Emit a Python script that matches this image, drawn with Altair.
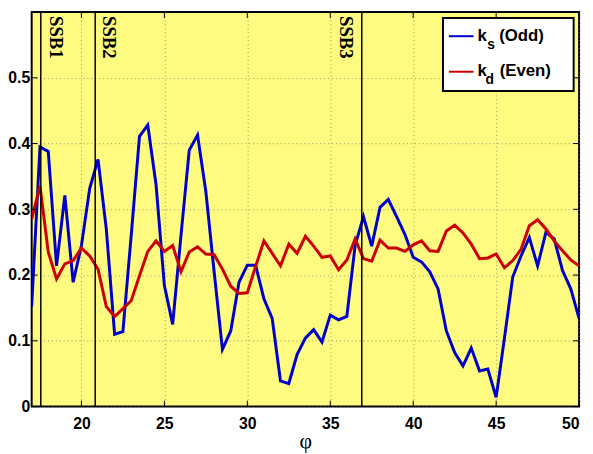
import altair as alt
import pandas as pd

# ---- data ----
phi = [17.0 + 0.5 * i for i in range(67)]

ks_odd = [0.152, 0.395, 0.388, 0.214, 0.321, 0.189, 0.245, 0.332, 0.376, 0.270,
          0.110, 0.114, 0.260, 0.411, 0.428, 0.337, 0.184, 0.125, 0.260, 0.390,
          0.413, 0.327, 0.205, 0.087, 0.115, 0.189, 0.215, 0.215, 0.164, 0.134,
          0.039, 0.035, 0.079, 0.104, 0.117, 0.098, 0.139, 0.132, 0.137, 0.245,
          0.289, 0.244, 0.303, 0.315, 0.289, 0.262, 0.227, 0.220, 0.205, 0.179,
          0.115, 0.082, 0.062, 0.089, 0.054, 0.057, 0.014, 0.104, 0.197, 0.229,
          0.257, 0.214, 0.265, 0.255, 0.207, 0.179, 0.134]

kd_even = [0.285, 0.336, 0.235, 0.194, 0.217, 0.222, 0.241, 0.229, 0.209, 0.152,
           0.137, 0.149, 0.161, 0.199, 0.236, 0.252, 0.236, 0.245, 0.205, 0.235,
           0.243, 0.232, 0.231, 0.209, 0.183, 0.172, 0.173, 0.213, 0.252, 0.233,
           0.214, 0.247, 0.233, 0.259, 0.244, 0.227, 0.229, 0.208, 0.223, 0.255,
           0.225, 0.221, 0.253, 0.241, 0.241, 0.236, 0.246, 0.252, 0.237, 0.236,
           0.267, 0.276, 0.264, 0.247, 0.225, 0.226, 0.232, 0.211, 0.222, 0.239,
           0.275, 0.284, 0.270, 0.252, 0.237, 0.223, 0.214]

ssb_names = ["SSB1", "SSB2", "SSB3"]
ssb_phi = [17.55, 20.83, 36.9]
ssb_label_phi = [18.1, 21.27, 35.6]

x_ticks = [20, 25, 30, 35, 40, 45, 50]
y_ticks = [0, 0.1, 0.2, 0.3, 0.4, 0.5]

W, H = 555, 400
BG = "#FFFA80"
BLUE = "#0000CC"
RED = "#CC0000"

df = pd.DataFrame({
    "phi": phi * 2,
    "k": ks_odd + kd_even,
    "series": ["ks"] * len(phi) + ["kd"] * len(phi),
})
ssb_df = pd.DataFrame({"name": ssb_names, "phi": ssb_phi, "lphi": ssb_label_phi})
xt_df = pd.DataFrame({"phi": x_ticks})
yt_df = pd.DataFrame({"k": y_ticks})
one = pd.DataFrame({"a": [0]})

xscale = alt.Scale(domain=[17, 50], nice=False, zero=False)
yscale = alt.Scale(domain=[0, 0.6], nice=False)

xaxis = alt.Axis(values=x_ticks, title="\u03c6", grid=True, ticks=False, domain=False,
                 labelFont="Liberation Sans", labelFontWeight="bold", labelFontSize=16,
                 labelColor="black", labelPadding=9,
                 titleFont="Liberation Serif", titleFontWeight="normal", titleFontSize=22,
                 titleColor="black", titlePadding=0)
yaxis = alt.Axis(values=y_ticks, title=None, grid=True, ticks=False, domain=False,
                 format="~g",
                 labelFont="Liberation Sans", labelFontWeight="bold", labelFontSize=16,
                 labelColor="black", labelPadding=2)

lines = alt.Chart(df).mark_line(strokeWidth=3, clip=True).encode(
    x=alt.X("phi:Q", scale=xscale, axis=xaxis),
    y=alt.Y("k:Q", scale=yscale, axis=yaxis),
    color=alt.Color("series:N", scale=alt.Scale(domain=["ks", "kd"], range=[BLUE, RED]),
                    legend=None),
    order=alt.Order("phi:Q"),
)

ssb_rules = alt.Chart(ssb_df).mark_rule(color="black", strokeWidth=1.5).encode(
    x=alt.X("phi:Q", scale=xscale), y=alt.value(0), y2=alt.value(H)
)
ssb_text = alt.Chart(ssb_df).mark_text(
    angle=90, align="left", baseline="alphabetic", font="Liberation Serif",
    fontWeight="bold", fontSize=19, color="black"
).encode(x=alt.X("lphi:Q", scale=xscale), y=alt.value(4), text="name:N")

tick_b = alt.Chart(xt_df).mark_rule(color="black", strokeWidth=1).encode(
    x=alt.X("phi:Q", scale=xscale), y=alt.value(H), y2=alt.value(H - 6))
tick_t = alt.Chart(xt_df).mark_rule(color="black", strokeWidth=1).encode(
    x=alt.X("phi:Q", scale=xscale), y=alt.value(0), y2=alt.value(6))
tick_l = alt.Chart(yt_df).mark_rule(color="black", strokeWidth=1).encode(
    y=alt.Y("k:Q", scale=yscale), x=alt.value(0), x2=alt.value(6))
tick_r = alt.Chart(yt_df).mark_rule(color="black", strokeWidth=1).encode(
    y=alt.Y("k:Q", scale=yscale), x=alt.value(W), x2=alt.value(W - 6))

# ---- manual legend (needs subscripts) ----
leg_box = alt.Chart(one).mark_rect(fill="white", stroke="black", strokeWidth=2).encode(
    x=alt.value(417), x2=alt.value(549.5), y=alt.value(6), y2=alt.value(80))
leg_l1 = alt.Chart(one).mark_rule(color=BLUE, strokeWidth=2).encode(
    x=alt.value(423), x2=alt.value(448), y=alt.value(24.5))
leg_l2 = alt.Chart(one).mark_rule(color=RED, strokeWidth=2).encode(
    x=alt.value(423), x2=alt.value(448), y=alt.value(60.5))

def txt(s, x, y, size):
    return alt.Chart(one).mark_text(
        text=s, align="left", baseline="alphabetic", font="Liberation Sans",
        fontWeight="bold", fontSize=size, color="black"
    ).encode(x=alt.value(x), y=alt.value(y))

legend = [
    leg_box, leg_l1, leg_l2,
    txt("k", 452, 29.5, 17), txt("s", 462, 37, 14), txt("(Odd)", 474, 29.5, 17),
    txt("k", 452, 65, 17), txt("d", 460, 72.5, 14), txt("(Even)", 474.5, 65, 17),
]

chart = alt.layer(
    lines, ssb_rules, ssb_text, tick_b, tick_t, tick_l, tick_r, *legend
).properties(
    width=W, height=H,
    autosize=alt.AutoSizeParams(type="none"),
    padding={"left": 24, "top": 1, "right": 6, "bottom": 45},
).configure_view(
    fill=BG, stroke="black", strokeWidth=2
).configure_axis(
    gridColor="#7f7f5f", gridDash=[1, 3], gridWidth=1, gridOpacity=0.8
)

chart.save("out.html", embed_options={"renderer": "svg", "actions": False})
